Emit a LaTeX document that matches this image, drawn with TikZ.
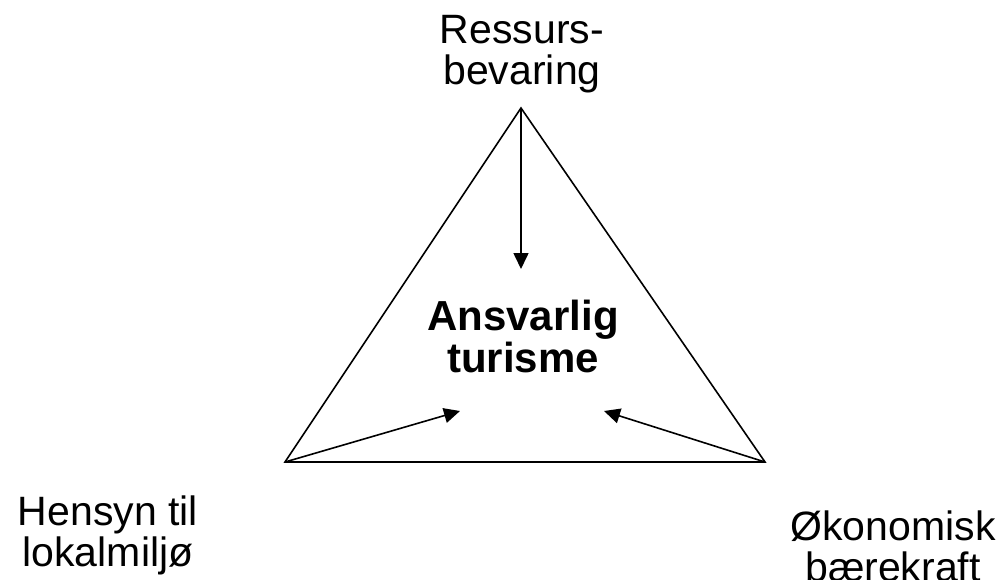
\documentclass[tikz,border=0pt]{standalone}
\usepackage{fontspec}
\setmainfont{Liberation Sans}
\usetikzlibrary{arrows.meta}
\begin{document}
\begin{tikzpicture}[x=1pt,y=-1pt,
  edge/.style={line width=1.6pt,line join=miter},
  arr/.style={line width=1.6pt,-{Triangle[length=16pt,width=15pt]}},
  lbl/.style={align=center,inner sep=0pt,font=\fontsize{41}{41}\selectfont},
  blbl/.style={lbl,font=\fontsize{42}{42}\selectfont\bfseries}]
\useasboundingbox (0,0) rectangle (1007,579);
\coordinate (T) at (521,108);
\coordinate (L) at (285,462);
\coordinate (R) at (765,462);
\coordinate (eT) at (521,269);
\coordinate (eL) at (460,411);
\coordinate (eR) at (604,411);
\draw[edge] (T) -- (L) -- (R) -- cycle;
\draw[arr] (T) -- (eT);
\draw[arr] (L) -- (eL);
\draw[arr] (R) -- (eR);
\node[lbl] (top) at (522,54) {Ressurs-\\bevaring};
\node[blbl] (mid) at (523,336) {Ansvarlig\\turisme};
\node[lbl] (left) at (108,535) {Hensyn til\\lokalmiljø};
\node[lbl] (right) at (893,546) {Økonomisk\\bærekraft};
\end{tikzpicture}
\end{document}
